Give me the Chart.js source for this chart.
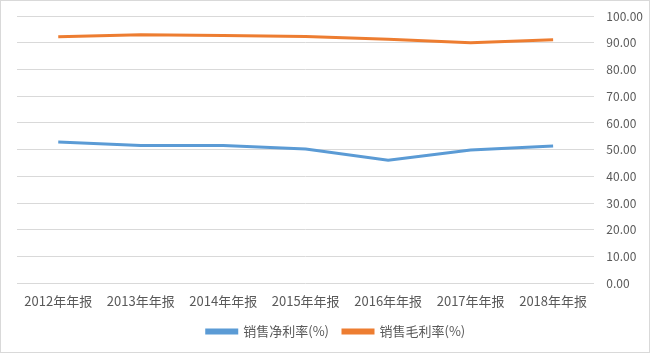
<!DOCTYPE html>
<html><head><meta charset="utf-8">
<script src="https://cdn.jsdelivr.net/npm/chart.js@4/dist/chart.umd.min.js"></script>
<style>
html,body{margin:0;padding:0;background:#fff;}
#wrap{width:650px;height:353px;box-sizing:border-box;border:1px solid #d9d9d9;position:relative;}
canvas{display:block;}
</style></head>
<body><div id="wrap"><canvas id="c" width="648" height="351"></canvas></div>
<script>
const categories = ['2012年年报','2013年年报','2014年年报','2015年年报','2016年年报','2017年年报','2018年年报'];
const netMargin = [52.9, 51.6, 51.6, 50.3, 46.1, 49.9, 51.4];
const grossMargin = [92.2, 93.0, 92.7, 92.3, 91.3, 90.0, 91.1];
const seriesNames = ['销售净利率(%)','销售毛利率(%)'];
const yTicks = [0,10,20,30,40,50,60,70,80,90,100];

const font = '"Noto Sans CJK SC", "Noto Sans", sans-serif';
new Chart(document.getElementById('c'), {
  type: 'line',
  data: {
    labels: categories,
    datasets: [
      {label: seriesNames[0], data: netMargin, borderColor:'#5b9bd5', backgroundColor:'#5b9bd5', borderWidth:3, pointRadius:0, tension:0},
      {label: seriesNames[1], data: grossMargin, borderColor:'#ed7d31', backgroundColor:'#ed7d31', borderWidth:3, pointRadius:0, tension:0}
    ]
  },
  options: {
    responsive:false, animation:false,
    layout:{padding:{left:16, right:-6, top:15, bottom:4}},
    plugins:{
      legend:{position:'bottom', labels:{boxWidth:30, boxHeight:3, color:'#595959', font:{family:font,size:13}, padding:14}},
      tooltip:{enabled:false}
    },
    scales:{
      x:{offset:true, grid:{display:false}, border:{display:false},
         ticks:{color:'#595959', font:{family:font,size:13}, padding:2, maxRotation:0, autoSkip:false}},
      y:{position:'right', min:0, max:100, afterBuildTicks:(ax)=>{ax.ticks = yTicks.map(v=>({value:v}));},
         afterFit:(ax)=>{ax.paddingTop = 0;},
         grid:{color:'#d9d9d9', drawTicks:false}, border:{display:false},
         ticks:{color:'#595959', font:{family:font,size:12}, padding:12, callback:(v)=>Number(v).toFixed(2)}}
    }
  }
});
</script></body></html>
